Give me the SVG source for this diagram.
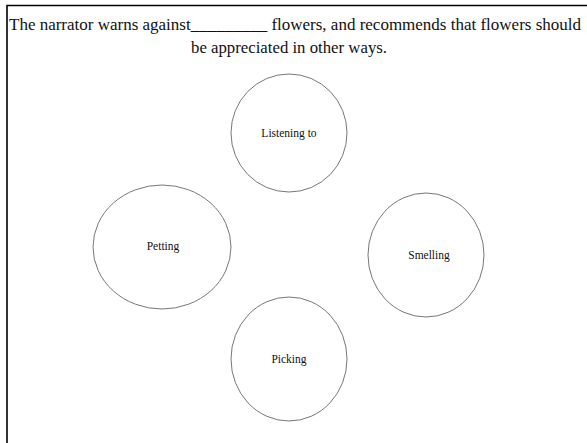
<svg xmlns="http://www.w3.org/2000/svg" width="587" height="443" viewBox="0 0 587 443">
  <style>
    .frame { fill: none; stroke: #000; stroke-width: 1.6; }
    .q { font-size: 17px; fill: #111; }
    .bubble { fill: #fff; stroke: #777; stroke-width: 1; }
    .lbl { font-size: 11.5px; fill: #111; text-anchor: middle; }
  </style>
  <rect width="587" height="443" fill="#fff"/>
  <!-- open frame: top and left edges -->
  <path class="frame" d="M7 443 V5.5 H587"/>
  <g font-family="Liberation Serif, Times New Roman, serif">
    <!-- prompt -->
    <text class="q" x="9" y="30" textLength="572" lengthAdjust="spacingAndGlyphs">The narrator warns against_________ flowers, and recommends that flowers should</text>
    <text class="q" x="191" y="53" textLength="196" lengthAdjust="spacingAndGlyphs">be appreciated in other ways.</text>
    <g id="node-listening">
      <ellipse class="bubble" cx="289" cy="133" rx="58" ry="59"/>
      <text class="lbl" x="289" y="137">Listening to</text>
    </g>
    <g id="node-petting">
      <ellipse class="bubble" cx="162" cy="247" rx="69" ry="62"/>
      <text class="lbl" x="163" y="250">Petting</text>
    </g>
    <g id="node-smelling">
      <ellipse class="bubble" cx="426" cy="255" rx="58" ry="62"/>
      <text class="lbl" x="429" y="259">Smelling</text>
    </g>
    <g id="node-picking">
      <ellipse class="bubble" cx="289" cy="359" rx="58" ry="62"/>
      <text class="lbl" x="289" y="363">Picking</text>
    </g>
  </g>
  <g id="connectors"/>
</svg>
